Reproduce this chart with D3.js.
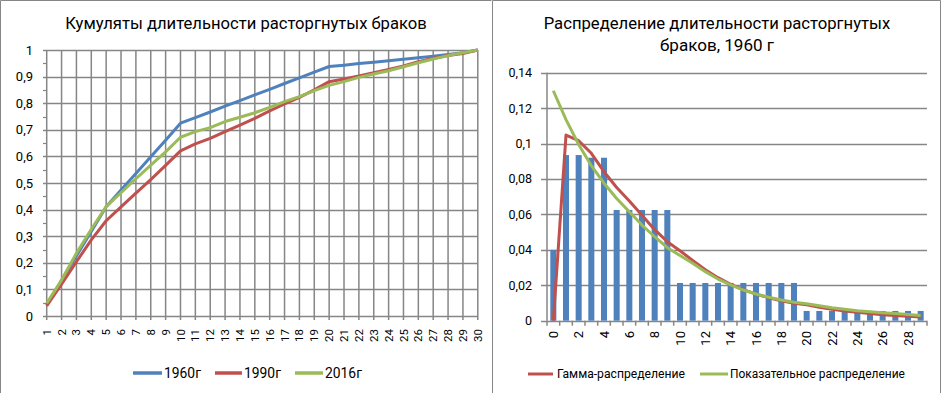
<!DOCTYPE html>
<html><head><meta charset="utf-8">
<script src="https://cdn.jsdelivr.net/npm/d3@7"></script>
<style>
body{margin:0;background:#fff}
svg{display:block;font-family:Roboto,"Open Sans",sans-serif}
</style>
</head><body>
<svg id="c" width="942" height="393"></svg>
<script>
// ---------- data: left chart (cumulative) ----------
const cumCategories = [1,2,3,4,5,6,7,8,9,10,11,12,13,14,15,16,17,18,19,20,21,22,23,24,25,26,27,28,29,30];
const cum1960 = [0.040,0.134,0.226,0.318,0.411,0.474,0.536,0.599,0.661,0.725,0.746,0.767,0.789,0.810,0.831,0.852,0.874,0.895,0.917,0.938,0.943,0.949,0.954,0.960,0.965,0.971,0.977,0.983,0.990,1.000];
const cum1990 = [0.038,0.120,0.204,0.286,0.358,0.410,0.462,0.513,0.566,0.621,0.647,0.668,0.693,0.718,0.743,0.771,0.797,0.822,0.850,0.881,0.891,0.902,0.915,0.927,0.940,0.956,0.969,0.979,0.987,1.000];
const cum2016 = [0.048,0.135,0.236,0.326,0.411,0.464,0.516,0.567,0.617,0.672,0.693,0.708,0.731,0.747,0.764,0.784,0.806,0.825,0.847,0.867,0.881,0.897,0.910,0.922,0.937,0.952,0.966,0.979,0.990,1.000];
const cumYTicks = [0,0.1,0.2,0.3,0.4,0.5,0.6,0.7,0.8,0.9,1];
const cumSeriesNames = ["1960г","1990г","2016г"];

// ---------- data: right chart (distribution, 1960) ----------
const distCategories = [0,1,2,3,4,5,6,7,8,9,10,11,12,13,14,15,16,17,18,19,20,21,22,23,24,25,26,27,28,29];
const distLabels = [0,2,4,6,8,10,12,14,16,18,20,22,24,26,28];
const freq1960 = [0.040,0.0935,0.0935,0.092,0.092,0.0625,0.0625,0.0625,0.0625,0.0625,0.0213,0.0213,0.0213,0.0213,0.0213,0.0213,0.0213,0.0213,0.0213,0.0213,0.0055,0.0055,0.0055,0.0055,0.0055,0.0055,0.0055,0.0055,0.0055,0.0055];
const gammaFit = [0,0.1048,0.1016,0.0945,0.0841,0.0752,0.0676,0.0595,0.0514,0.0446,0.0395,0.0340,0.0288,0.0243,0.0205,0.0175,0.0150,0.0130,0.0113,0.0099,0.0090,0.0076,0.0064,0.0055,0.0047,0.0040,0.0034,0.0029,0.0025,0.0021];
const expFit = [0.1298,0.1135,0.0995,0.0875,0.0776,0.0690,0.0615,0.0540,0.0474,0.0412,0.0368,0.0324,0.0277,0.0235,0.0202,0.0173,0.0151,0.0132,0.0117,0.0104,0.0096,0.0085,0.0073,0.0064,0.0056,0.0050,0.0045,0.0040,0.0035,0.0030];
const distYTicks = [0,0.02,0.04,0.06,0.08,0.1,0.12,0.14];
const distSeriesNames = ["Гамма-распределение","Показательное распределение"];

const BLUE = "#4F81BD", RED = "#C0504D", GREEN = "#9BBB59", GRID = "#868686";
const fmt = d => String(d).replace(".", ",");

const svg = d3.select("#c");

function fitText(sel, width) {
  const node = sel.node();
  const fs = parseFloat(sel.attr("font-size"));
  const w = node.getComputedTextLength();
  sel.attr("font-size", (fs * width / w).toFixed(2));
  return sel;
}

// panel borders
svg.append("path").attr("d", "M0.5,400V0.5H491.5").attr("fill","none").attr("stroke", GRID);
svg.append("path").attr("d", "M492.5,400V0.5H940.5V400").attr("fill","none").attr("stroke", GRID);

// ================= LEFT CHART =================
const L = svg.append("g");
const xL = d3.scalePoint().domain(cumCategories).range([46.7, 477.8]);
const yL = d3.scaleLinear().domain([0, 1]).range([316, 50]);

// horizontal grid
L.append("g").selectAll("line").data(cumYTicks).join("line")
  .attr("x1", 43).attr("x2", xL(30)).attr("y1", d => Math.round(yL(d)) + 0.5).attr("y2", d => Math.round(yL(d)) + 0.5)
  .attr("stroke", GRID).attr("stroke-width", 1.5);
// minor ticks
const minor = cumYTicks.slice(0, -1).map((d, i) => (d + cumYTicks[i + 1]) / 2);
L.append("g").selectAll("line").data(minor).join("line")
  .attr("x1", 43).attr("x2", xL(1)).attr("y1", d => Math.round(yL(d)) + 0.5).attr("y2", d => Math.round(yL(d)) + 0.5)
  .attr("stroke", GRID).attr("stroke-width", 1.2);
// vertical grid
L.append("g").selectAll("line").data(cumCategories).join("line")
  .attr("x1", d => xL(d)).attr("x2", d => xL(d)).attr("y1", yL(1)).attr("y2", 320)
  .attr("stroke", GRID).attr("stroke-width", 1.5);

// y labels
L.append("g").selectAll("text").data(cumYTicks).join("text")
  .attr("x", 33).attr("y", d => yL(d)).attr("dy", "0.35em")
  .attr("text-anchor", "end").attr("font-size", 13).attr("fill", "#000").text(fmt);
// x labels
L.append("g").selectAll("text").data(cumCategories).join("text")
  .attr("transform", d => `translate(${xL(d)},329) rotate(-90)`)
  .attr("dy", "0.35em").attr("text-anchor", "end").attr("font-size", 11.5).attr("fill", "#000").text(d => d);

// lines
const lineL = d3.line().x((d, i) => xL(cumCategories[i])).y(d => yL(d));
[[cum1960, BLUE], [cum1990, RED], [cum2016, GREEN]].forEach(([s, c]) => {
  L.append("path").datum(s).attr("d", lineL).attr("fill", "none").attr("stroke", c)
    .attr("stroke-width", 3).attr("stroke-linejoin", "round");
});

// title
fitText(L.append("text").attr("x", 246).attr("y", 29).attr("text-anchor", "middle")
  .attr("font-size", 17).attr("fill", "#000").text("Кумуляты длительности расторгнутых браков"), 362);

// legend
const legL = [[133, 162, 164, 37], [215, 242, 244, 37], [295, 323, 325, 37]];
[BLUE, RED, GREEN].forEach((c, i) => {
  const [a, b, t, w] = legL[i];
  L.append("line").attr("x1", a).attr("x2", b).attr("y1", 373).attr("y2", 373).attr("stroke", c).attr("stroke-width", 3.5);
  fitText(L.append("text").attr("x", t).attr("y", 378).attr("font-size", 15).attr("fill", "#000").text(cumSeriesNames[i]), w);
});

// ================= RIGHT CHART =================
const R = svg.append("g");
const xR = d3.scaleBand().domain(distCategories).range([547, 927]);
const yR = d3.scaleLinear().domain([0, 0.14]).range([320.7, 72.7]);
const bw = xR.bandwidth() / 2.1;

R.append("g").selectAll("line").data(distYTicks).join("line")
  .attr("x1", 541).attr("x2", 927).attr("y1", d => Math.round(yR(d)) + 0.5).attr("y2", d => Math.round(yR(d)) + 0.5)
  .attr("stroke", GRID).attr("stroke-width", 1.5);
// y axis line
R.append("line").attr("x1", 547).attr("x2", 547).attr("y1", yR(0.14)).attr("y2", yR(0)).attr("stroke", GRID).attr("stroke-width", 1.5);
// x ticks at category boundaries
const bounds = distCategories.map(d => xR(d)).concat([xR(distCategories[distCategories.length - 1]) + xR.bandwidth()]);
R.append("g").selectAll("line").data(bounds).join("line")
  .attr("x1", d => d).attr("x2", d => d).attr("y1", yR(0)).attr("y2", yR(0) + 5)
  .attr("stroke", GRID).attr("stroke-width", 1.5);

// bars
R.append("g").selectAll("rect").data(freq1960).join("rect")
  .attr("x", (d, i) => xR(distCategories[i]) + xR.bandwidth() / 2 - bw / 2)
  .attr("width", bw)
  .attr("y", d => yR(d)).attr("height", d => yR(0) - yR(d))
  .attr("fill", BLUE);

// y labels
R.append("g").selectAll("text").data(distYTicks).join("text")
  .attr("x", 532).attr("y", d => yR(d)).attr("dy", "0.35em")
  .attr("text-anchor", "end").attr("font-size", 12.5).attr("fill", "#000").text(fmt);
// x labels
R.append("g").selectAll("text").data(distLabels).join("text")
  .attr("transform", d => `translate(${xR(d) + xR.bandwidth() / 2},331) rotate(-90)`)
  .attr("dy", "0.35em").attr("text-anchor", "end").attr("font-size", 13).attr("fill", "#000").text(d => d);

// fitted lines
const lineR = d3.line().x((d, i) => xR(distCategories[i]) + xR.bandwidth() / 2).y(d => yR(d));
R.append("path").datum(gammaFit).attr("d", lineR).attr("fill", "none").attr("stroke", RED).attr("stroke-width", 3).attr("stroke-linejoin", "round");
R.append("path").datum(expFit).attr("d", lineR).attr("fill", "none").attr("stroke", GREEN).attr("stroke-width", 3).attr("stroke-linejoin", "round");

// title
fitText(R.append("text").attr("x", 717).attr("y", 28.5).attr("text-anchor", "middle")
  .attr("font-size", 17).attr("fill", "#000").text("Распределение длительности расторгнутых"), 347);
fitText(R.append("text").attr("x", 717).attr("y", 51).attr("text-anchor", "middle")
  .attr("font-size", 17).attr("fill", "#000").text("браков, 1960 г"), 114);

// legend
const legR = [[528, 553, 557, 128], [700, 728, 730, 175]];
[RED, GREEN].forEach((c, i) => {
  const [a, b, t, w] = legR[i];
  R.append("line").attr("x1", a).attr("x2", b).attr("y1", 374).attr("y2", 374).attr("stroke", c).attr("stroke-width", 3);
  fitText(R.append("text").attr("x", t).attr("y", 378).attr("font-size", 12).attr("fill", "#000").text(distSeriesNames[i]), w);
});
</script>
</body></html>
